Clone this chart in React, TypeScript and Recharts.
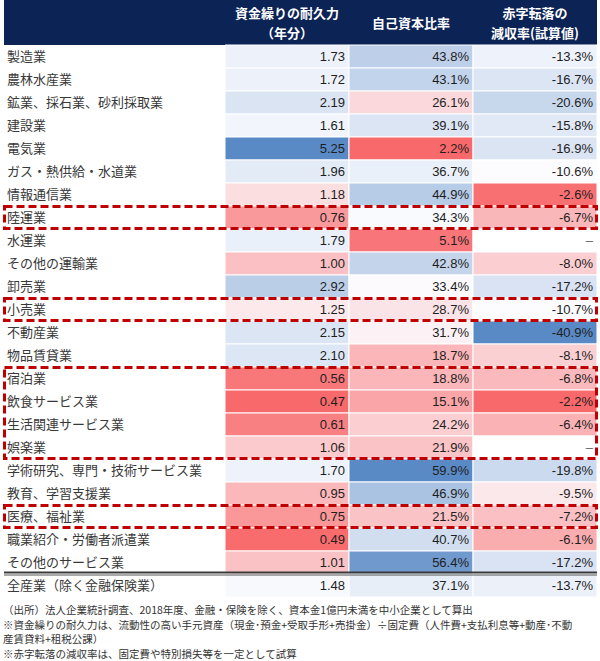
import { BarChart, Bar, XAxis, YAxis, Cell, LabelList, ReferenceArea } from "recharts"

// 業種
const industries = [
    "製造業",
    "農林水産業",
    "鉱業、採石業、砂利採取業",
    "建設業",
    "電気業",
    "ガス・熱供給・水道業",
    "情報通信業",
    "陸運業",
    "水運業",
    "その他の運輸業",
    "卸売業",
    "小売業",
    "不動産業",
    "物品賃貸業",
    "宿泊業",
    "飲食サービス業",
    "生活関連サービス業",
    "娯楽業",
    "学術研究、専門・技術サービス業",
    "教育、学習支援業",
    "医療、福祉業",
    "職業紹介・労働者派遣業",
    "その他のサービス業",
    "全産業（除く金融保険業）",
]

// 資金繰りの耐久力（年分）
const durability = [1.73, 1.72, 2.19, 1.61, 5.25, 1.96, 1.18, 0.76, 1.79, 1.0, 2.92, 1.25, 2.15, 2.1, 0.56, 0.47, 0.61, 1.06, 1.7, 0.95, 0.75, 0.49, 1.01, 1.48]

// 自己資本比率（%）
const equityRatio = [43.8, 43.1, 26.1, 39.1, 2.2, 36.7, 44.9, 34.3, 5.1, 42.8, 33.4, 28.7, 31.7, 18.7, 18.8, 15.1, 24.2, 21.9, 59.9, 46.9, 21.5, 40.7, 56.4, 37.1]

// 赤字転落の減収率（%）、null は「–」
const breakEven: (number | null)[] = [-13.3, -16.7, -20.6, -15.8, -16.9, -10.6, -2.6, -6.7, null, -8.0, -17.2, -10.7, -40.9, -8.1, -6.8, -2.2, -6.4, null, -19.8, -9.5, -7.2, -6.1, -17.2, -13.7]

const headers = [["資金繰りの耐久力", "（年分）"], ["自己資本比率"], ["赤字転落の", "減収率(試算値)"]]

const highlighted = [
    ["陸運業", "陸運業"],
    ["小売業", "小売業"],
    ["宿泊業", "娯楽業"],
    ["医療、福祉業", "医療、福祉業"],
]

const notes = [
    "（出所）法人企業統計調査、2018年度、金融・保険を除く、資本金1億円未満を中小企業として算出",
    "※資金繰りの耐久力は、流動性の高い手元資産（現金･預金+受取手形+売掛金）÷固定費（人件費+支払利息等+動産･不動",
    "産賃貸料+租税公課）",
    "※赤字転落の減収率は、固定費や特別損失等を一定として試算",
]

const RED = [248, 105, 107]
const WHITE = [252, 252, 255]
const BLUE = [90, 138, 198]

const JP = '"Noto Sans CJK JP", "Noto Sans", sans-serif'
const NUM = '"Liberation Sans", Arial, sans-serif'

const LABEL_W = 221
const CHART_W = 600
const CHART_H = 600
const MARGIN = { top: 45, right: 3, bottom: 3, left: 4 }
const COLS = 3
const TABLE_W = CHART_W - MARGIN.left - MARGIN.right
const COL_W = (TABLE_W - LABEL_W) / COLS

function median(values: number[]) {
    const s = [...values].sort((a, b) => a - b)
    const m = Math.floor(s.length / 2)
    return s.length % 2 ? s[m] : (s[m - 1] + s[m]) / 2
}

function mix(a: number[], b: number[], t: number) {
    const c = a.map((v, i) => Math.round(v + (b[i] - v) * t))
    return `rgb(${c[0]},${c[1]},${c[2]})`
}

// Excel風の3色スケール（最小・中央値・最大）
function colorScale(values: (number | null)[], lowColor: number[], highColor: number[]) {
    const nums = values.filter((v): v is number => v !== null)
    const min = Math.min(...nums)
    const max = Math.max(...nums)
    const mid = median(nums)
    return (v: number | null) => {
        if (v === null) return "#ffffff"
        if (v <= mid) return mix(WHITE, lowColor, (mid - v) / (mid - min))
        return mix(WHITE, highColor, (v - mid) / (max - mid))
    }
}

const color1 = colorScale(durability, RED, BLUE)
const color2 = colorScale(equityRatio, RED, BLUE)
const color3 = colorScale(breakEven, BLUE, RED)

const table = industries.map((name, i) => ({
    name,
    c1: 1,
    c2: 1,
    c3: 1,
    t1: durability[i].toFixed(2),
    t2: `${equityRatio[i].toFixed(1)}%`,
    t3: breakEven[i] === null ? "–" : `${(breakEven[i] as number).toFixed(1)}%`,
}))

const totalRow = industries[industries.length - 1]

function ValueLabel(props: any) {
    const { x, y, width, height, value } = props
    return (
        <text
            x={x + width - 4}
            y={y + height / 2}
            dy="0.36em"
            textAnchor="end"
            fontFamily={NUM}
            fontSize={13}
            fill={value === "–" ? "#666" : "#1e1e1e"}
        >
            {value}
        </text>
    )
}

function NameTick(props: any) {
    const { x, y, payload } = props
    return (
        <text x={x - LABEL_W + 11} y={y} dy="0.36em" textAnchor="start" fontFamily={JP} fontSize={13} fill="#383838">
            {payload.value}
        </text>
    )
}

// 行全体（ラベル列を含む）を囲む赤い破線
function DashedBox(props: any) {
    const { y, height } = props
    return (
        <rect
            x={MARGIN.left + 0.5}
            y={y + 0.5}
            width={TABLE_W - 1}
            height={height - 1}
            fill="none"
            stroke="#c00000"
            strokeWidth={3}
            strokeDasharray="8 4"
        />
    )
}

function DoubleRule(props: any) {
    const { y } = props
    const x1 = MARGIN.left
    const x2 = MARGIN.left + TABLE_W
    return (
        <g>
            <line x1={x1} x2={x2} y1={y - 1.5} y2={y - 1.5} stroke="#3a3a3a" strokeWidth={2} />
            <line x1={x1} x2={x2} y1={y + 1} y2={y + 1} stroke="#555" strokeWidth={1} />
        </g>
    )
}

export default function App() {
    return (
        <div style={{ position: "absolute", left: 0, top: 0, width: 600, height: 661, background: "#fff" }}>
            <div
                style={{
                    position: "absolute",
                    left: MARGIN.left,
                    top: 0,
                    width: TABLE_W,
                    height: MARGIN.top,
                    background: "#0c2356",
                    display: "flex",
                }}
            >
                <div style={{ width: LABEL_W }} />
                {headers.map((lines, i) => (
                    <div
                        key={i}
                        style={{
                            width: COL_W,
                            display: "flex",
                            flexDirection: "column",
                            justifyContent: "center",
                            alignItems: "center",
                            color: "#fff",
                            fontFamily: JP,
                            fontWeight: 700,
                            fontSize: 13,
                            lineHeight: "20px",
                        }}
                    >
                        {lines.map((l) => (
                            <div key={l}>{l}</div>
                        ))}
                    </div>
                ))}
            </div>

            <div style={{ position: "absolute", left: 0, top: 0 }}>
                <BarChart
                    width={CHART_W}
                    height={CHART_H}
                    data={table}
                    layout="vertical"
                    margin={MARGIN}
                    barCategoryGap={0}
                >
                    <XAxis type="number" domain={[0, COLS]} hide />
                    <YAxis
                        type="category"
                        dataKey="name"
                        width={LABEL_W}
                        axisLine={false}
                        tickLine={false}
                        interval={0}
                        tick={<NameTick />}
                    />
                    <Bar dataKey="c1" stackId="t" isAnimationActive={false}>
                        {table.map((_, i) => (
                            <Cell key={i} fill={color1(durability[i])} stroke="#fff" strokeWidth={1} />
                        ))}
                        <LabelList dataKey="t1" content={<ValueLabel />} />
                    </Bar>
                    <Bar dataKey="c2" stackId="t" isAnimationActive={false}>
                        {table.map((_, i) => (
                            <Cell key={i} fill={color2(equityRatio[i])} stroke="#fff" strokeWidth={1} />
                        ))}
                        <LabelList dataKey="t2" content={<ValueLabel />} />
                    </Bar>
                    <Bar dataKey="c3" stackId="t" isAnimationActive={false}>
                        {table.map((_, i) => (
                            <Cell key={i} fill={color3(breakEven[i])} stroke="#fff" strokeWidth={1} />
                        ))}
                        <LabelList dataKey="t3" content={<ValueLabel />} />
                    </Bar>
                </BarChart>
            </div>

            {/* 同じ軸の透明なグラフを重ね、枠線と二重線を最前面に描く */}
            <div style={{ position: "absolute", left: 0, top: 0, pointerEvents: "none" }}>
                <BarChart width={CHART_W} height={CHART_H} data={table} layout="vertical" margin={MARGIN} barCategoryGap={0}>
                    <XAxis type="number" domain={[0, COLS]} hide />
                    <YAxis type="category" dataKey="name" width={LABEL_W} axisLine={false} tickLine={false} tick={false} />
                    <Bar dataKey="c1" fill="none" isAnimationActive={false} />
                    <ReferenceArea y1={totalRow} y2={totalRow} ifOverflow="visible" shape={<DoubleRule />} />
                    {highlighted.map(([a, b]) => (
                        <ReferenceArea key={a} y1={a} y2={b} ifOverflow="visible" shape={<DashedBox />} />
                    ))}
                </BarChart>
            </div>

            <div
                style={{
                    position: "absolute",
                    left: 3,
                    top: 603,
                    fontFamily: JP,
                    fontSize: 10.5,
                    lineHeight: "14.5px",
                    color: "#333",
                    whiteSpace: "nowrap",
                }}
            >
                {notes.map((n) => (
                    <div key={n}>{n}</div>
                ))}
            </div>
        </div>
    )
}
